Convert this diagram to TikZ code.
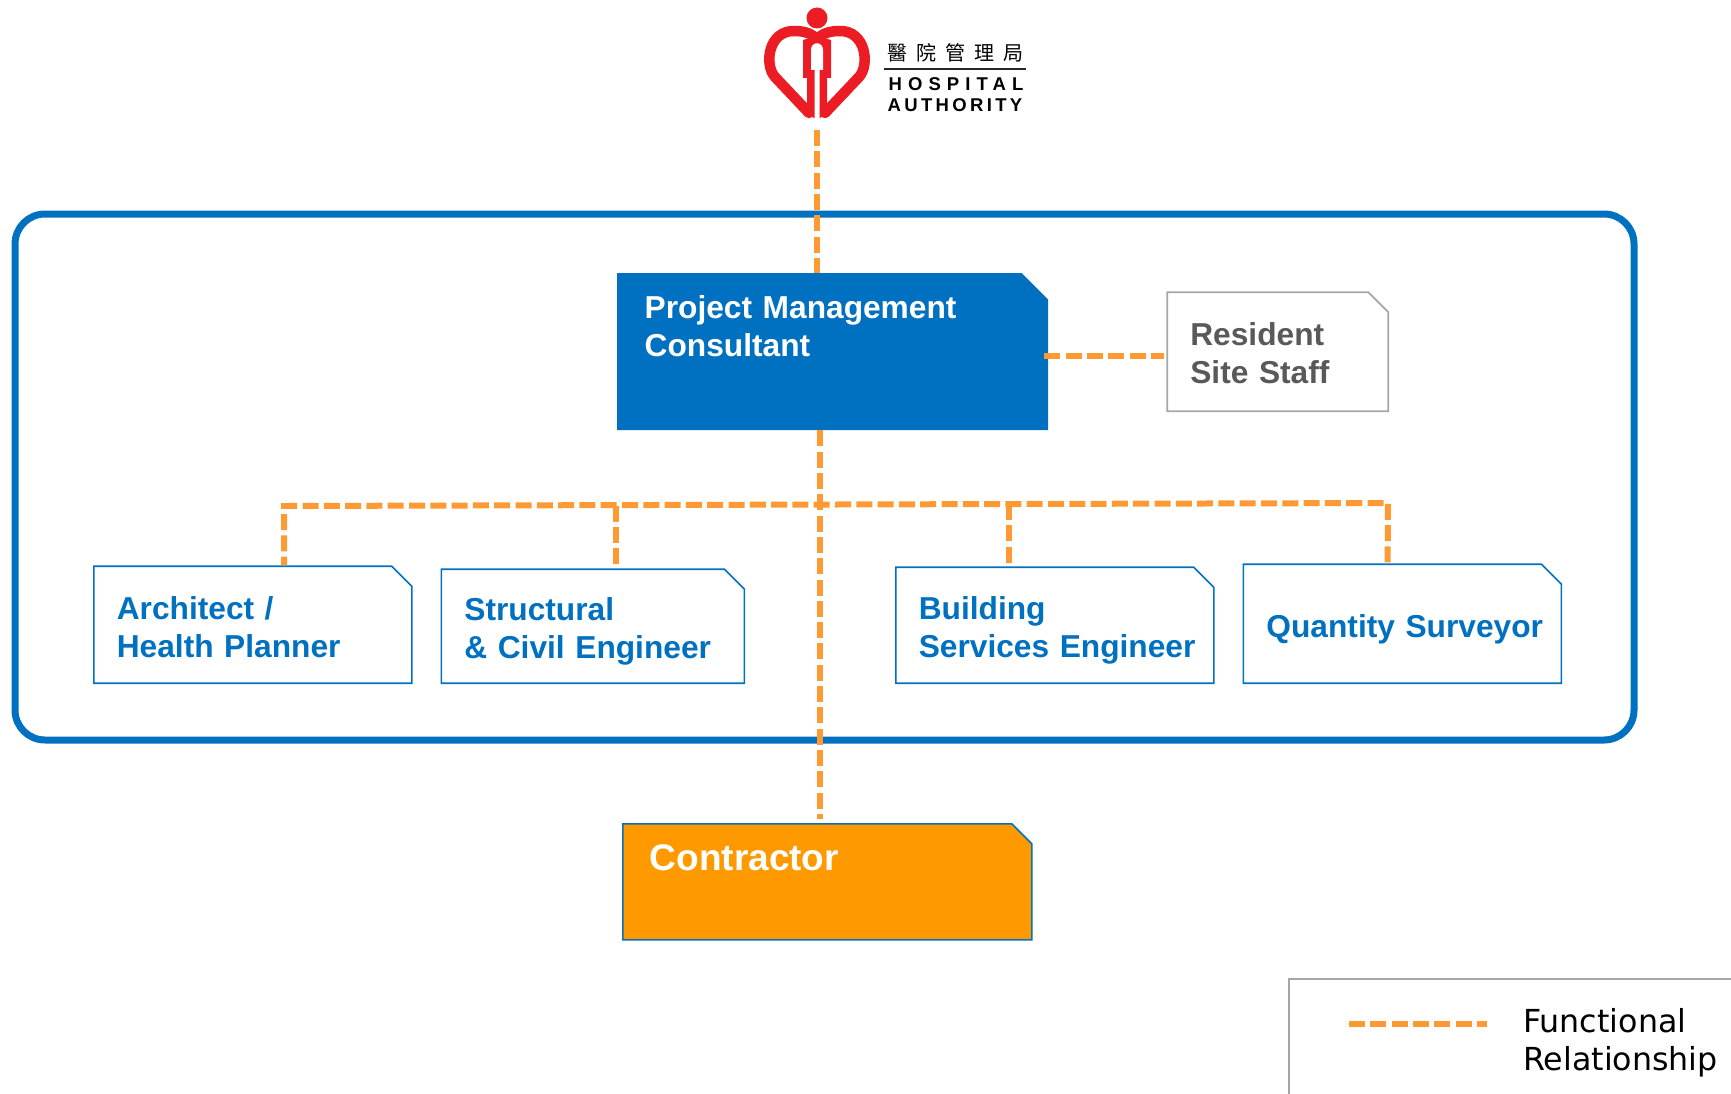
\documentclass[tikz,border=0pt]{standalone}
\usepackage{fontspec}
\setmainfont{Liberation Sans}
\newfontfamily\cjkfont{Noto Sans CJK TC}
\newfontfamily\legendfont{DejaVu Sans}
\newfontfamily\logofonta[LetterSpace=33]{Liberation Sans Bold}
\newfontfamily\logofontb[LetterSpace=18]{Liberation Sans Bold}
\usetikzlibrary{positioning}
\usetikzlibrary{calc}
\usetikzlibrary{shapes.misc}
\definecolor{hablue}{HTML}{0070C0}
\definecolor{funcorange}{HTML}{FF9933}
\definecolor{conorange}{HTML}{FF9900}
\definecolor{hared}{HTML}{EC1C24}
\definecolor{staffgrey}{HTML}{A6A6A6}
\definecolor{stafftext}{HTML}{595959}

\begin{document}
\begin{tikzpicture}[x=1pt, y=-1pt,
    func/.style={draw=funcorange, line width=6pt, dash pattern=on 16pt off 5.3pt},
    snipbox/.style={chamfered rectangle, chamfered rectangle corners=north east, chamfered rectangle xsep=10pt, chamfered rectangle ysep=10pt, inner ysep=0pt, inner xsep=13pt, align=left, font=\bfseries\fontsize{31.7}{38}\selectfont},
    subbox/.style={snipbox, draw=hablue, line width=1.6pt, text=hablue, text width=272pt, text height=43pt, text depth=54pt}]
\useasboundingbox (0,0) rectangle (1731,1094);

% logo
\fill[hared] (817,18) circle (10.5);
\begin{scope}[draw=hared, line width=10.5pt, line join=round, line cap=round]
    \draw (809,113) -- (775,77) .. controls (764,65) and (768,30) .. (795,31) .. controls (805,31) and (812,34) .. (817,39) .. controls (822,34) and (829,31) .. (839,31) .. controls (866,30) and (870,65) .. (859,77) -- (825,113);
\end{scope}
\fill[hared] (803,40) -- (817,36) -- (831,40) -- (831,78) -- (827,78) -- (827,115) -- (819.5,118) -- (819.5,70) -- (814.5,70) -- (814.5,118) -- (807,115) -- (807,78) -- (803,78) -- cycle;
\fill[white] (811,70) -- (811,50) .. controls (811,41) and (823,41) .. (823,50) -- (823,70) -- cycle;
\node[font=\cjkfont\fontsize{20}{20}\selectfont, inner sep=0pt] (logocn) at (955,53) {\makebox[136pt][s]{醫\hfill 院\hfill 管\hfill 理\hfill 局}};
\draw[line width=1.6pt, black!85] (884,69) -- (1026,69);
\node[font=\logofonta\fontsize{18.5}{18.5}\selectfont, inner sep=0pt] (logoen1) at (956,84) {HOSPITAL};
\node[font=\logofontb\fontsize{18.5}{18.5}\selectfont, inner sep=0pt] (logoen2) at (955,105) {AUTHORITY};
\coordinate (logobase) at (817,130);

% outer frame
\draw[hablue, line width=7pt, rounded corners=30pt] (15,214) rectangle (1634,740);

% boxes
\node[snipbox, fill=hablue, text=white, chamfered rectangle xsep=13.5pt, chamfered rectangle ysep=13pt, inner xsep=14pt, text width=376pt, text height=32pt, text depth=99pt, anchor=north west] (pmc) at (617,273) {Project Management\\Consultant};
\node[snipbox, draw=staffgrey, line width=1.8pt, text=stafftext, text width=175pt, text height=43pt, text depth=56pt, right=118pt of pmc] (staff) {Resident\\Site Staff};
\node[subbox, anchor=south west] (arch) at (93,684) {Architect /\\Health Planner};
\node[subbox, text width=257pt, text height=41pt, text depth=53pt, right=28pt of arch.south east, anchor=south west] (struct) {Structural\\\& Civil Engineer};
\node[subbox, text height=42pt, anchor=south west] (bse) at (895,684) {Building\\\mbox{Services Engineer}};
\node[subbox, text height=63pt, text depth=36pt, right=28pt of bse.south east, anchor=south west] (qs) {\mbox{Quantity Surveyor}};
\node[snipbox, draw=hablue, line width=1.6pt, fill=conorange, text=white, font=\bfseries\fontsize{37}{44}\selectfont, text width=355pt, inner xsep=17pt, text height=37pt, text depth=59pt, anchor=north west] (contractor) at (622,823) {Contractor};

% connectors
\coordinate (trunk) at ($(pmc.south)+(-13,0)$);
\coordinate (busleft) at (284,506);
\coordinate (busright) at (1388,503);
\coordinate (busstruct) at (616,505.5);
\coordinate (busbse) at (1009,504);
\draw[func] (logobase) -- (logobase |- pmc.north);
\draw[func] (trunk) -- ($(trunk |- contractor.north)+(0,-4)$);
\draw[func] ($(pmc.east)+(-4,4)$) -- ($(staff.west)+(-2,4)$);
\draw[func] ($(qs.north west)+(145,-1)$) -- (busright) -- (busleft) -- (busleft |- arch.north);
\draw[func] (busstruct) -- (busstruct |- struct.north);
\draw[func] (busbse) -- (busbse |- bse.north);

% legend
\draw[staffgrey, line width=1.2pt] (1731,979) -- (1289,979) -- (1289,1094);
\coordinate (keyleft) at (1349,1023.5);
\coordinate (keyright) at (1487,1023.5);
\draw[func] (keyleft) -- (keyright);
\node[font=\legendfont\fontsize{31.7}{38.5}\selectfont, align=left, anchor=north west, inner sep=0pt] (keytext) at (1523,1008) {Functional\\Relationship};
\end{tikzpicture}
\end{document}
